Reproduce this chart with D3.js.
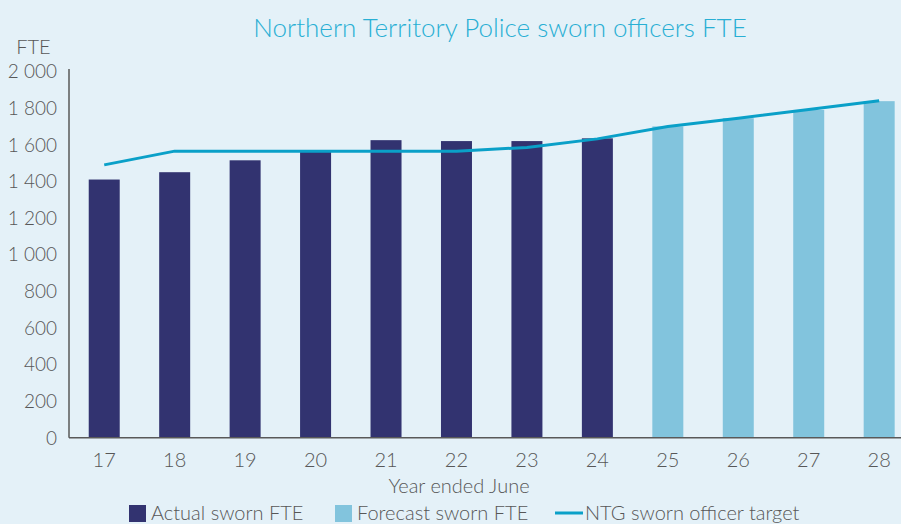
<!DOCTYPE html>
<html>
<head>
<meta charset="utf-8">
<script src="https://cdn.jsdelivr.net/npm/d3@7"></script>
<style>
  html, body { margin: 0; padding: 0; background: #e4f1f8; overflow: hidden; }
  text { font-family: Lato, "Open Sans", sans-serif; font-weight: 300; fill: #575757; }
</style>
</head>
<body>
<svg id="viz" width="901" height="524"></svg>
<script>
// chart data
var years = ["17", "18", "19", "20", "21", "22", "23", "24", "25", "26", "27", "28"];
var actualFte = [1410, 1450, 1515, 1565, 1625, 1620, 1620, 1635, null, null, null, null];
var forecastFte = [null, null, null, null, null, null, null, null, 1700, 1745, 1790, 1838];
var targetFte = [1490, 1565, 1565, 1565, 1565, 1565, 1585, 1632, 1700, 1745, 1792, 1840];
var yTicks = [0, 200, 400, 600, 800, 1000, 1200, 1400, 1600, 1800, 2000];

var legendItems = [
  { label: "Actual sworn FTE", type: "rect", color: "#323370", x: 129 },
  { label: "Forecast sworn FTE", type: "rect", color: "#82c4dd", x: 335 },
  { label: "NTG sworn officer target", type: "line", color: "#0aa0c8", x: 555 },
];

function drawChart() {
  var svg = d3.select("#viz");
  var left = 69;
  var step = 70.45;

  var x = d3
    .scaleBand()
    .domain(years)
    .range([left, left + step * years.length])
    .paddingInner(0.56)
    .paddingOuter(0.28);
  var y = d3.scaleLinear().domain([0, 2000]).range([437.7, 71.5]);

  // title
  svg
    .append("text")
    .attr("x", 500)
    .attr("y", 37)
    .style("text-anchor", "middle")
    .style("font-size", "26px")
    .style("fill", "#29afd4")
    .text("Northern Territory Police sworn officers FTE");

  // y unit label
  svg
    .append("text")
    .attr("x", 33.5)
    .attr("y", 47)
    .attr("dy", "0.36em")
    .style("text-anchor", "middle")
    .style("font-size", "20px")
    .text("FTE");

  // y tick labels
  svg
    .selectAll(".ytick")
    .data(yTicks)
    .enter()
    .append("text")
    .attr("class", "ytick")
    .attr("x", 57)
    .attr("y", function (d) {
      return y(d);
    })
    .attr("dy", "0.36em")
    .style("text-anchor", "end")
    .style("font-size", "19px")
    .text(function (d) {
      return d3.format(",")(d).replace(",", " ");
    });

  // bars
  svg
    .selectAll(".actual")
    .data(years.filter(function (d, i) { return actualFte[i] != null; }))
    .enter()
    .append("rect")
    .attr("x", function (d) { return x(d); })
    .attr("width", x.bandwidth())
    .attr("y", function (d) { return y(actualFte[years.indexOf(d)]); })
    .attr("height", function (d) { return y(0) - y(actualFte[years.indexOf(d)]); })
    .attr("fill", "#323370");

  svg
    .selectAll(".forecast")
    .data(years.filter(function (d, i) { return forecastFte[i] != null; }))
    .enter()
    .append("rect")
    .attr("x", function (d) { return x(d); })
    .attr("width", x.bandwidth())
    .attr("y", function (d) { return y(forecastFte[years.indexOf(d)]); })
    .attr("height", function (d) { return y(0) - y(forecastFte[years.indexOf(d)]); })
    .attr("fill", "#82c4dd");

  // axes lines
  svg
    .append("line")
    .attr("x1", left)
    .attr("x2", left)
    .attr("y1", 69)
    .attr("y2", y(0))
    .attr("stroke", "#595959")
    .attr("stroke-width", 1.5);
  svg
    .append("line")
    .attr("x1", left)
    .attr("x2", 901)
    .attr("y1", y(0))
    .attr("y2", y(0))
    .attr("stroke", "#595959")
    .attr("stroke-width", 1.5);

  // target line
  svg
    .append("path")
    .datum(targetFte)
    .attr("fill", "none")
    .attr("stroke", "#0aa0c8")
    .attr("stroke-width", 3)
    .attr("stroke-linejoin", "round")
    .attr(
      "d",
      d3
        .line()
        .x(function (d, i) { return x(years[i]) + x.bandwidth() / 2; })
        .y(function (d) { return y(d); })
    );

  // x tick labels
  svg
    .selectAll(".xtick")
    .data(years)
    .enter()
    .append("text")
    .attr("class", "xtick")
    .attr("x", function (d) { return x(d) + x.bandwidth() / 2; })
    .attr("y", 460)
    .attr("dy", "0.36em")
    .style("text-anchor", "middle")
    .style("font-size", "20px")
    .text(function (d) { return d; });

  // x axis title
  svg
    .append("text")
    .attr("x", 459)
    .attr("y", 486)
    .attr("dy", "0.36em")
    .style("text-anchor", "middle")
    .style("font-size", "20px")
    .text("Year ended June");

  // legend
  var legend = svg
    .selectAll(".legend")
    .data(legendItems)
    .enter()
    .append("g")
    .attr("class", "legend")
    .attr("transform", function (d) { return "translate(" + d.x + ",513)"; });

  legend
    .filter(function (d) { return d.type == "rect"; })
    .append("rect")
    .attr("x", 0)
    .attr("y", -8)
    .attr("width", 17)
    .attr("height", 17)
    .attr("fill", function (d) { return d.color; });

  legend
    .filter(function (d) { return d.type == "line"; })
    .append("line")
    .attr("x1", 0)
    .attr("x2", 28)
    .attr("stroke", function (d) { return d.color; })
    .attr("stroke-width", 3);

  legend
    .append("text")
    .attr("x", function (d) { return d.type == "rect" ? 22 : 30; })
    .attr("dy", "0.36em")
    .style("font-size", "20px")
    .text(function (d) { return d.label; });
}

drawChart();
</script>
</body>
</html>
